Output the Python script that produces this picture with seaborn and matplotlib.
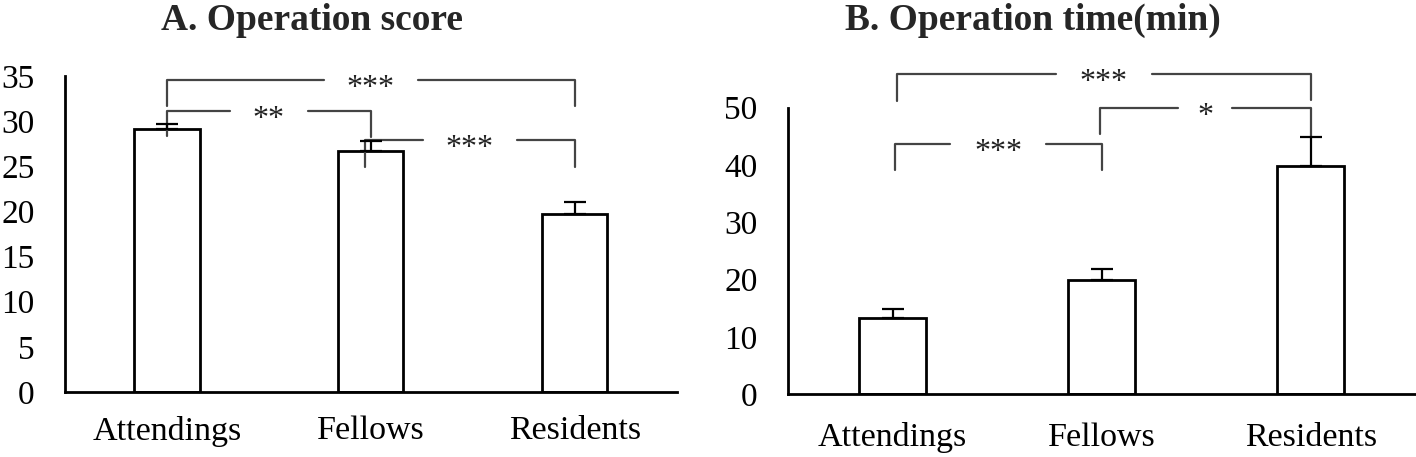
import pandas as pd
import matplotlib.pyplot as plt
import seaborn as sns

# ---- data ----
groups = ['Attendings', 'Fellows', 'Residents']
score_mean = [29.1, 26.7, 19.7]
score_err = [0.55, 1.1, 1.3]
time_mean = [13.3, 19.9, 39.8]
time_err = [1.5, 2.0, 5.1]

# significance brackets: (left bar, right bar, line y, left leg end, right leg end, label, gap half width)
score_brackets = [
    (0, 2, 34.6, 31.7, 31.7, '***', 0.23),
    (0, 1, 31.1, 28.35, 28.2, '**', 0.19),
    (0.97, 2, 27.9, 24.9, 24.9, '***', 0.23),
]
time_brackets = [
    (0.02, 2, 55.8, 51.1, 51.4, '***', 0.23),
    (0.99, 2, 49.9, 45.4, 44.8, '*', 0.13),
    (0.01, 1, 43.6, 39.1, 39.1, '***', 0.23),
]

sns.set_style('white')
plt.rcParams['font.family'] = ['Liberation Serif', 'DejaVu Serif']

fig = plt.figure(figsize=(14.16, 4.57), dpi=100)
ax1 = fig.add_axes([0.0459, 0.1422, 0.432, 0.6915])
ax2 = fig.add_axes([0.5565, 0.1372, 0.4430, 0.6271])


def draw_panel(ax, means, errs, ymax, step, brackets, label_pad):
    df = pd.DataFrame({'group': groups, 'value': means})
    sns.barplot(data=df, x='group', y='value', ax=ax, color='white',
                saturation=1, edgecolor='black', linewidth=2, width=0.32,
                errorbar=None)
    ax.errorbar(range(len(groups)), means, yerr=[[0] * len(errs), errs],
                fmt='none', ecolor='black', elinewidth=1.6, capsize=8,
                capthick=1.6, zorder=3)
    ax.set_xlim(-0.5, 2.5)
    ax.set_ylim(0, ymax)
    ax.set_yticks(range(0, ymax + 1, step))
    ax.set_xlabel('')
    ax.set_ylabel('')
    for s in ['top', 'right']:
        ax.spines[s].set_visible(False)
    for s in ['left', 'bottom']:
        ax.spines[s].set_linewidth(2)
        ax.spines[s].set_color('black')
    ax.tick_params(axis='y', direction='in', length=9, width=2,
                   labelsize=24, pad=22, colors='black')
    ax.tick_params(axis='x', length=0, labelsize=24.5, pad=label_pad,
                   colors='black')

    for x0, x1, y, l0, l1, txt, gap in brackets:
        mid = (x0 + x1) / 2
        kw = dict(color='#444444', lw=1.6, clip_on=False)
        ax.plot([x0, x0, mid - gap], [l0, y, y], **kw)
        ax.plot([mid + gap, x1, x1], [y, y, l1], **kw)
        ax.annotate(txt, (mid, y), xytext=(0, -11.5), textcoords='offset points',
                    ha='center', va='baseline', fontsize=23, color='#222222',
                    annotation_clip=False)


draw_panel(ax1, score_mean, score_err, 35, 5, score_brackets, 17)
draw_panel(ax2, time_mean, time_err, 50, 10, time_brackets, 20)

fig.text(0.2203, 0.934, 'A. Operation score', ha='center', va='baseline',
         fontsize=27, fontweight='bold')
fig.text(0.7295, 0.934, 'B. Operation time(min)', ha='center', va='baseline',
         fontsize=27, fontweight='bold')

fig.savefig('out.png', dpi=100)
